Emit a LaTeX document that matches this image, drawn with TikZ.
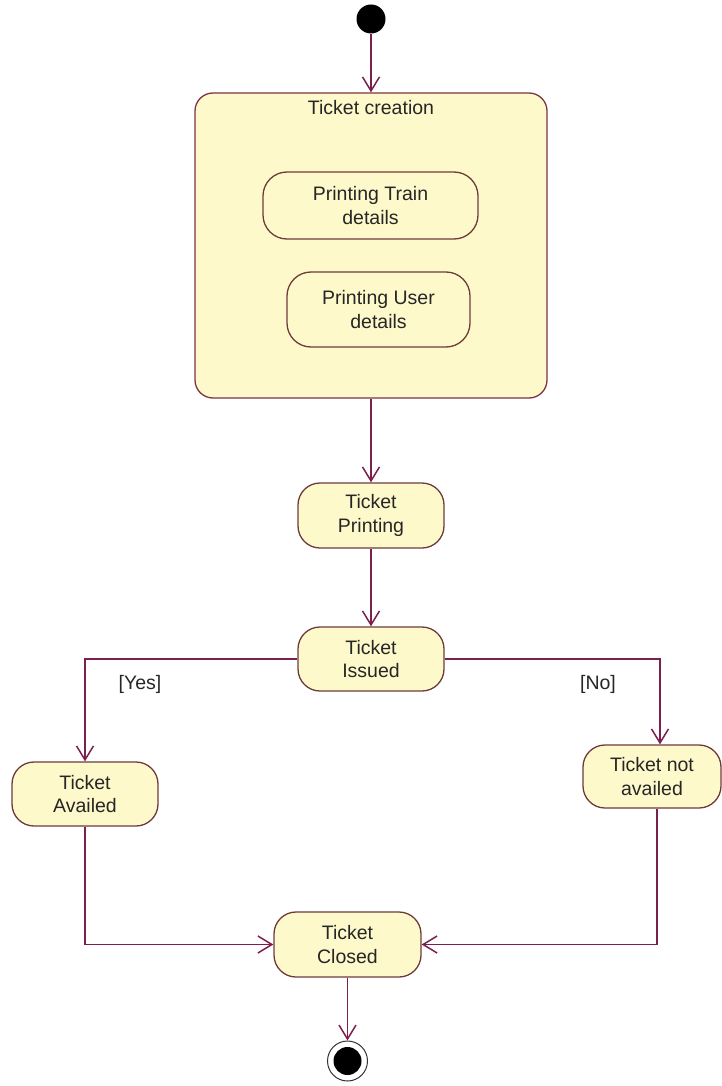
\documentclass[tikz,border=0pt]{standalone}
\usepackage{fontspec}
\setmainfont{Liberation Sans}
\usetikzlibrary{arrows.meta}
\definecolor{boxfill}{HTML}{FEF9CB}
\definecolor{boxline}{HTML}{6E3B3B}
\definecolor{compline}{HTML}{7E3444}
\definecolor{flow}{HTML}{7A1F4E}
\newcommand{\labelfont}{\fontsize{19.5}{23.5}\selectfont}
\tikzset{
  state/.style={draw=boxline, fill=boxfill, line width=1.3pt, rounded corners=22pt,
    align=center, inner sep=0pt, font=\labelfont, text=black!85},
  flowline/.style={draw=flow, line width=1.5pt,
    -{Straight Barb[length=14pt,width=17pt,line width=1.5pt]}},
  guard/.style={font=\labelfont, text=black!85, inner sep=0pt},
}
\begin{document}
\begin{tikzpicture}[x=1pt,y=-1pt]
\useasboundingbox (0,0) rectangle (722,1086);

% initial pseudo-state
\node[circle, fill=black, minimum size=29pt, inner sep=0pt] (init) at (371,19) {};

% composite state with its two sub-states
\node[state, draw=compline, rounded corners=18pt, minimum width=352pt, minimum height=305pt] (comp) at (371,245.5) {};
\node[guard] (comptitle) at (371,108) {Ticket creation};
\node[state, minimum width=215pt, minimum height=67pt, rounded corners=24pt] (train) at (370.5,205.5) {Printing Train\\details};
\node[state, minimum width=183pt, minimum height=75pt, rounded corners=24pt] (user) at (378.5,309.5) {Printing User\\details};

% simple states
\node[state, minimum width=146pt, minimum height=65pt] (printing) at (371,515.5) {Ticket\\Printing};
\node[state, minimum width=146pt, minimum height=64pt] (issued) at (371,659) {Ticket\\Issued};
\node[state, minimum width=146pt, minimum height=64pt] (availed) at (85,794) {Ticket\\Availed};
\node[state, minimum width=138pt, minimum height=63pt] (notavailed) at (652,776.5) {Ticket not\\availed};
\node[state, minimum width=147pt, minimum height=65pt] (closed) at (347.5,944.5) {Ticket\\Closed};

% final state
\node[circle, draw=black!80, line width=1pt, fill=white, minimum size=40pt, inner sep=0pt] (final) at (347.5,1061) {};
\node[circle, fill=black, minimum size=28pt, inner sep=0pt] (finalcore) at (final.center) {};

% transitions
\draw[flowline] (init) -- (comp.north);
\draw[flowline] (comp.south) -- (printing.north);
\draw[flowline] (printing.south) -- (issued.north);
\draw[flowline] (issued.west) -| (availed.north);
\draw[flowline] (issued.east) -| ([xshift=8pt]notavailed.north);
\draw[flowline] (availed.south) |- (closed.west);
\draw[flowline] ([xshift=5pt]notavailed.south) |- (closed.east);
\draw[flowline] (closed.south) -- (final.north);

% guards
\node[guard] (yes) at (140,684) {[Yes]};
\node[guard] (no) at (598,684) {[No]};
\end{tikzpicture}
\end{document}
